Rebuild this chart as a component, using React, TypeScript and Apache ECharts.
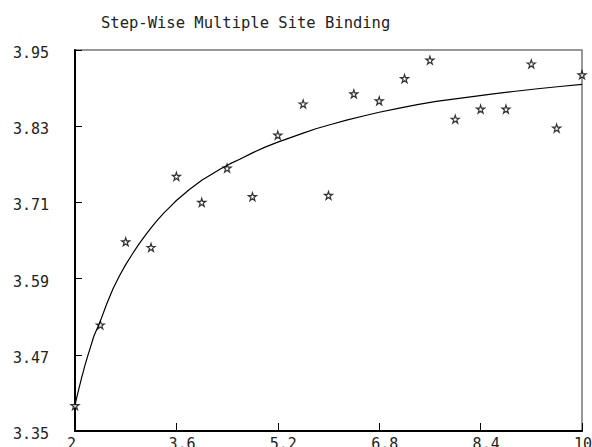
import React, { useEffect, useRef } from 'react';
import * as echarts from 'echarts';

const titleText = 'Step-Wise Multiple Site Binding';

// observed points (stars)
const xObserved = [2, 2.4, 2.8, 3.2, 3.6, 4.0, 4.4, 4.8, 5.2, 5.6, 6.0, 6.4, 6.8, 7.2, 7.6, 8.0, 8.4, 8.8, 9.2, 9.6, 10];
const yObserved = [3.390, 3.517, 3.648, 3.639, 3.751, 3.710, 3.764, 3.719, 3.816, 3.865, 3.721, 3.881, 3.870, 3.905, 3.934, 3.841, 3.857, 3.857, 3.928, 3.827, 3.911];

// fitted curve
const xFit = [2, 2.05, 2.1, 2.15, 2.2, 2.3, 2.4, 2.5, 2.6, 2.7, 2.8, 2.9, 3.0, 3.1, 3.2, 3.3, 3.4, 3.5, 3.6, 3.8, 4.0, 4.15, 4.3, 4.45, 4.6, 4.8, 5.0, 5.2, 5.4, 5.6, 5.8, 6.05, 6.3, 6.55, 6.8, 7.1, 7.4, 7.7, 8.0, 8.3, 8.6, 8.95, 9.3, 9.65, 10];
const yFit = [3.391, 3.412, 3.432, 3.451, 3.468, 3.500, 3.523, 3.550, 3.574, 3.594, 3.612, 3.628, 3.643, 3.657, 3.670, 3.682, 3.693, 3.703, 3.713, 3.730, 3.745, 3.754, 3.763, 3.771, 3.778, 3.788, 3.797, 3.805, 3.812, 3.819, 3.826, 3.833, 3.840, 3.846, 3.852, 3.858, 3.864, 3.869, 3.873, 3.877, 3.881, 3.885, 3.889, 3.8925, 3.896];

const xTickMin = 2;
const xTickMax = 10;
const xTickStep = 1.6;
const yTickMin = 3.35;
const yTickMax = 3.95;
const yTickStep = 0.12;

const starPath =
  'path://M50,2 L61,36 L97,36 L68,57 L79,92 L50,71 L21,92 L32,57 L3,36 L39,36 Z';

const FONT = '"DejaVu Sans Mono", "Liberation Mono", monospace';

export default function App() {
  const ref = useRef<HTMLDivElement>(null);

  useEffect(() => {
    document.body.style.margin = '0';
    const chart = echarts.init(ref.current as HTMLDivElement, null, { renderer: 'svg' });
    chart.setOption({
      animation: false,
      backgroundColor: '#ffffff',
      title: {
        text: titleText,
        left: 96,
        top: 10,
        textStyle: {
          fontFamily: FONT,
          fontSize: 15.5,
          fontWeight: 'normal',
          color: '#222',
        },
      },
      grid: {
        left: 75,
        right: 10,
        top: 50,
        bottom: 16,
        containLabel: false,
        outerBoundsMode: 'none',
        show: true,
        borderColor: '#777',
        borderWidth: 1.5,
        backgroundColor: 'transparent',
      },
      xAxis: {
        type: 'value',
        min: xTickMin,
        max: xTickMax,
        interval: xTickStep,
        axisLine: { show: true, lineStyle: { color: '#000', width: 2 } },
        axisTick: { show: true, inside: true, length: 8, lineStyle: { color: '#000', width: 1 } },
        splitLine: { show: false },
        axisLabel: {
          margin: 5,
          align: 'left',
          padding: [0, 0, 0, -8],
          fontFamily: FONT,
          fontSize: 15,
          color: '#222',
          formatter: (v: number) => String(Number(v.toFixed(1))),
        },
      },
      yAxis: {
        type: 'value',
        min: yTickMin,
        max: yTickMax,
        interval: yTickStep,
        axisLine: { show: true, lineStyle: { color: '#000', width: 2 } },
        axisTick: { show: true, inside: true, length: 7, lineStyle: { color: '#000', width: 1 } },
        splitLine: { show: false },
        axisLabel: {
          margin: 26,
          verticalAlign: 'top',
          lineHeight: 6,
          fontFamily: FONT,
          fontSize: 15,
          color: '#222',
          formatter: (v: number) => v.toFixed(2),
        },
      },
      series: [
        {
          type: 'line',
          data: xFit.map((x, i) => [x, yFit[i]]),
          smooth: false,
          showSymbol: false,
          symbol: 'none',
          clip: true,
          lineStyle: { color: '#000', width: 1.2 },
        },
        {
          type: 'scatter',
          data: xObserved.map((x, i) => [x, yObserved[i]]),
          symbol: starPath,
          symbolSize: 8,
          clip: true,
          itemStyle: { color: '#fff', borderColor: '#000', borderWidth: 1.2 },
        },
      ],
    });
    return () => chart.dispose();
  }, []);

  return <div ref={ref} style={{ width: 592, height: 447 }} />;
}
